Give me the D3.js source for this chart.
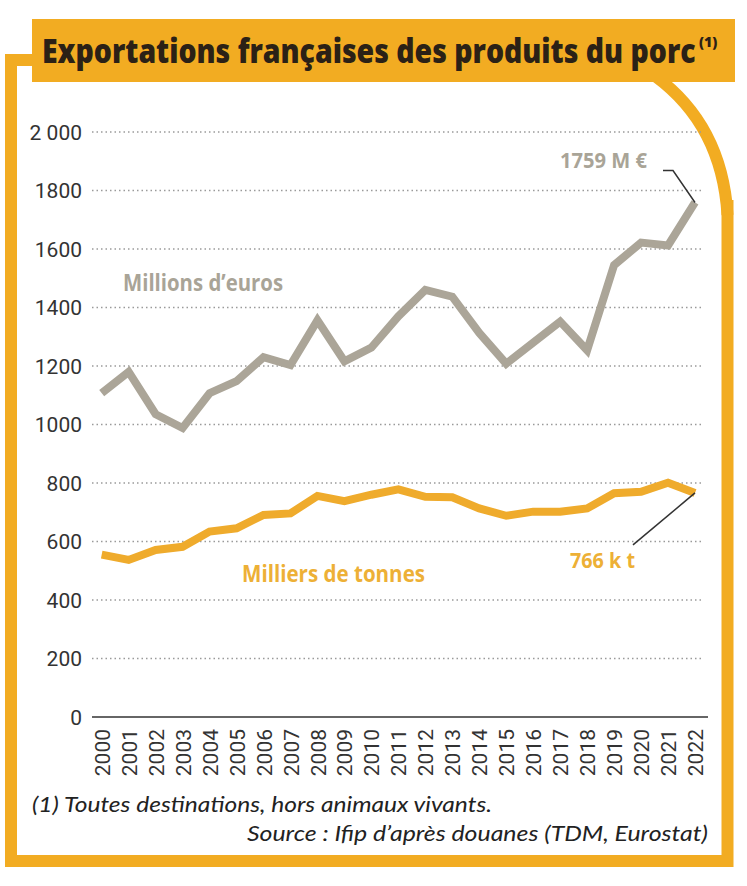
<!DOCTYPE html>
<html><head><meta charset="utf-8">
<script src="https://cdn.jsdelivr.net/npm/d3@7"></script>
<style>
html,body{margin:0;padding:0;background:#fff;}
svg{display:block;}
</style></head>
<body>
<script>
const years = ["2000","2001","2002","2003","2004","2005","2006","2007","2008","2009","2010","2011","2012","2013","2014","2015","2016","2017","2018","2019","2020","2021","2022"];
const euros = [1107,1180,1035,988,1107,1148,1230,1203,1356,1216,1263,1370,1460,1437,1313,1208,1280,1352,1254,1545,1622,1612,1759];
const tonnes = [555,537,571,582,634,645,691,696,756,738,760,778,753,751,713,688,702,702,713,765,770,801,766];
const yTicks = [0,200,400,600,800,1000,1200,1400,1600,1800,2000];
const yTickLabels = ["0","200","400","600","800","1000","1200","1400","1600","1800","2 000"];

const W = 747, H = 886;
const orange = "#F2AC22", lineOrange = "#EFAB2C", gray = "#ABA598";
const svg = d3.select("body").append("svg").attr("width", W).attr("height", H);

// frame
const frame = svg.append("g").attr("fill","none").attr("stroke",orange).attr("stroke-width",12);
frame.append("path").attr("d","M 60 60 L 11 60 L 11 861 L 727.5 861 L 727.5 200")
  .attr("stroke-linejoin","miter");
frame.append("path").attr("d","M 655 76 Q 722 125 727.5 215");
svg.append("rect").attr("x",32).attr("y",19).attr("width",703).attr("height",63).attr("fill",orange);

// title, horizontally condensed to the reference width
const tg = svg.append("g").attr("transform","translate(42,63)");
const tt = tg.append("text").attr("x",0).attr("y",0).attr("fill","#2b2116")
  .attr("font-family","'Open Sans', sans-serif").attr("font-weight",800).attr("font-size",33)
  .text("Exportations françaises des produits du porc");
const tlen = tt.node().getComputedTextLength();
tt.attr("transform",`scale(${654/tlen},1)`);
svg.append("text").attr("x",699).attr("y",47).attr("fill","#2b2116")
  .attr("font-family","'Open Sans', sans-serif").attr("font-weight",800).attr("font-size",14)
  .text("(1)");

// scales
const x = d3.scalePoint().domain(years).range([101.7, 695]);
const y = d3.scaleLinear().domain([0,2000]).range([717,132]);

// grid
const grid = svg.append("g");
grid.selectAll("line").data(yTicks.filter(d=>d>0)).join("line")
  .attr("x1",92).attr("x2",703).attr("y1",d=>y(d)).attr("y2",d=>y(d))
  .attr("stroke","#9a9a9a").attr("stroke-width",1.4).attr("stroke-dasharray","1.5,3");

// y axis
const yAxis = svg.append("g").attr("transform","translate(82,0)")
  .call(d3.axisLeft(y).tickValues(yTicks).tickSize(0).tickPadding(0).tickFormat((d,i)=>yTickLabels[i]));
yAxis.select(".domain").remove();
yAxis.selectAll("text").attr("font-family","Roboto, sans-serif").attr("font-size",21)
  .attr("fill","#333").attr("dy","0.35em");

// x axis
const xAxis = svg.append("g").attr("transform","translate(0,717)")
  .call(d3.axisBottom(x).tickSize(0).tickPadding(0));
xAxis.select(".domain").attr("d","M92,0H708").attr("stroke","#333").attr("stroke-width",1.5);
xAxis.selectAll("text").attr("font-family","Roboto, sans-serif").attr("font-size",21)
  .attr("fill","#333").attr("text-anchor","end").attr("transform","rotate(-90)")
  .attr("x",-12).attr("y",0).attr("dy","0.36em");

// lines
const line = d3.line().x((d,i)=>x(years[i])).y(d=>y(d)).curve(d3.curveLinear);
svg.append("path").datum(euros).attr("d",line).attr("fill","none").attr("stroke",gray)
  .attr("stroke-width",8).attr("stroke-linejoin","miter");
svg.append("path").datum(tonnes).attr("d",line).attr("fill","none").attr("stroke",lineOrange)
  .attr("stroke-width",8).attr("stroke-linejoin","miter");

// labels
const lab = (t,xx,yy,col,len,fs)=>svg.append("text").attr("x",xx).attr("y",yy).attr("fill",col)
  .attr("font-family","'Open Sans', sans-serif").attr("font-weight",700).attr("font-size",fs)
  .attr("textLength",len).attr("lengthAdjust","spacingAndGlyphs").text(t);
lab("Millions d’euros",123,291,"#A9A497",160,23);
lab("Milliers de tonnes",242,582,"#EDB036",183,23);
lab("1759 M €",560,168,"#A9A497",87,22);
lab("766 k t",570,568,"#EDB036",65,22);

// leader lines
const last = years[years.length-1];
const ex = x(last), eyE = y(euros[euros.length-1]), eyT = y(tonnes[tonnes.length-1]);
svg.append("path").attr("d",`M${ex-32},${eyE-32}H${ex-22}L${ex},${eyE}`)
  .attr("fill","none").attr("stroke","#333").attr("stroke-width",1.5);
svg.append("path").attr("d",`M${ex-62},${eyT+52}L${ex},${eyT}`)
  .attr("fill","none").attr("stroke","#333").attr("stroke-width",1.5);

// footer
svg.append("text").attr("x",32).attr("y",812).attr("font-family","Lato, sans-serif")
  .attr("font-style","italic").attr("font-size",21).attr("fill","#222")
  .attr("textLength",460).attr("lengthAdjust","spacingAndGlyphs")
  .text("(1) Toutes destinations, hors animaux vivants.");
svg.append("text").attr("x",247).attr("y",841).attr("font-family","Lato, sans-serif")
  .attr("font-style","italic").attr("font-size",21).attr("fill","#222")
  .attr("textLength",461).attr("lengthAdjust","spacingAndGlyphs")
  .text("Source : Ifip d’après douanes (TDM, Eurostat)");
</script>
</body></html>
